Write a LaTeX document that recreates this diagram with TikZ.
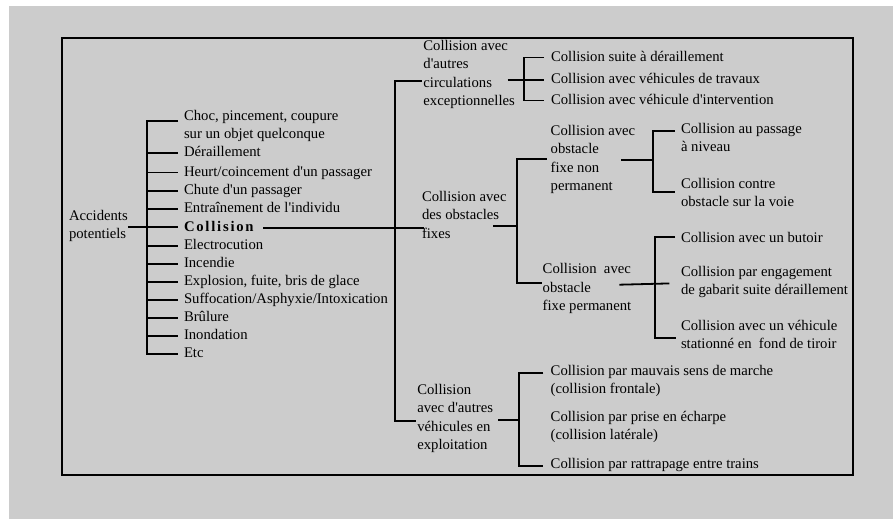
\documentclass[tikz,border=0pt]{standalone}
\usepackage{fontspec}
\setmainfont{Liberation Serif}[Ligatures=TeXOff]
\newfontfamily\spacedserif{Liberation Serif}[Ligatures=TeXOff,LetterSpace=12]
\usetikzlibrary{calc}
\definecolor{panel}{HTML}{CCCCCC}
\newcommand{\txtfont}{\fontsize{14.7}{18.2}\selectfont}
\begin{document}
\begin{tikzpicture}[x=1pt,y=-1pt,
  lbl/.style={anchor=north west,inner sep=0pt,outer sep=0pt,align=left,font=\txtfont,
    execute at begin node=\strut,execute at end node=\strut},
  leaf/.style={lbl,anchor=west},
  tree/.style={line width=1.8pt,line join=miter}]
\useasboundingbox (0,0) rectangle (893,519);
\fill[white] (0,0) rectangle (893,519);
\fill[panel] (9,6) rectangle (893,519);
\draw[line width=2pt] (62,37.7) rectangle (852.7,475.3);

% root and first-level categories
\node[lbl] (root) at (69,210.4) {Accidents\\potentiels};
\node[lbl]  (choc)  at (184,109.9) {Choc, pincement, coupure\\sur un objet quelconque};
\node[leaf] (der)   at (184,153)   {Déraillement};
\node[leaf] (heurt) at (184,172.5) {Heurt/coincement d'un passager};
\node[leaf] (chute) at (184,191)   {Chute d'un passager};
\node[leaf] (entr)  at (184,209.3) {Entraînement de l'individu};
\node[leaf,font=\txtfont\spacedserif\bfseries] (coll) at (184,228) {Collision};
\node[leaf] (elec)  at (184,246)   {Electrocution};
\node[leaf] (inc)   at (184,264)   {Incendie};
\node[leaf] (expl)  at (184,282)   {Explosion, fuite, bris de glace};
\node[leaf] (suff)  at (184,300)   {Suffocation/Asphyxie/Intoxication};
\node[leaf] (brul)  at (184,318)   {Brûlure};
\node[leaf] (inond) at (184,336)   {Inondation};
\node[leaf] (etc)   at (184,354)   {Etc};

% collision types
\node[lbl] (A) at (423.4,40.4) {Collision avec\\d'autres\\circulations\\exceptionnelles};
\node[lbl] (B) at (422,191.4) {Collision avec\\des obstacles\\fixes};
\node[lbl] (C) at (417.3,384.4) {Collision\\avec d'autres\\véhicules en\\exploitation};

\node[leaf] (A1) at (551,57.5)  {Collision suite à déraillement};
\node[leaf] (A2) at (551,80)    {Collision avec véhicules de travaux};
\node[leaf] (A3) at (551,100.5) {Collision avec véhicule d'intervention};

\node[lbl] (B1) at (550.7,125.4) {Collision avec\\obstacle\\fixe non\\permanent};
\node[lbl] (B2) at (542.7,263.6) {Collision\ \ avec\\obstacle\\fixe permanent};

\node[lbl]  (B1a) at (681,123.4) {Collision au passage\\à niveau};
\node[lbl]  (B1b) at (681,178.4) {Collision contre\\obstacle sur la voie};
\node[leaf] (B2a) at (681,239.3) {Collision avec un butoir};
\node[lbl]  (B2b) at (681,266.5) {Collision par engagement\\de gabarit suite déraillement};
\node[lbl]  (B2c) at (681,320.2) {Collision avec un véhicule\\stationné en\ \ fond de tiroir};

\node[lbl]  (Ca) at (550.7,364.9) {Collision par mauvais sens de marche\\(collision frontale)};
\node[lbl]  (Cb) at (550.7,410.9) {Collision par prise en écharpe\\(collision latérale)};
\node[leaf] (Cc) at (550.7,465)   {Collision par rattrapage entre trains};

% first-level bracket
\coordinate (b1) at (147,228);
\draw[tree] ($(choc.north west)+(-6,11.1)$) -| (b1 |- etc.west) -- ($(etc.west)+(-6,0)$);
\foreach \n in {der,heurt,chute,entr,elec,inc,expl,suff,brul,inond}
  \draw[tree] (b1 |- \n.west) -- ($(\n.west)+(-6,0)$);
\draw[tree] (root.east) -- ([xshift=-6pt]root.east -| coll.west);

% collision bracket
\coordinate (b2)  at (395,228);
\coordinate (Ain) at ($(A.north west)+(-1.8,40.6)$);
\coordinate (Bin) at ($(B.north west)+(2,36.6)$);
\coordinate (Cin) at ($(C.north west)+(-1.3,36.6)$);
\draw[tree] ([xshift=9.5pt]coll.east) -- (Bin);
\draw[tree] (Ain) -| (b2 |- Cin) -- (Cin);

% other traffic
\coordinate (Aout) at ($(A.north west)+(84.1,39.6)$);
\coordinate (bA) at (524,80);
\draw[tree] (Aout) -- ($(A2.west)+(-7,0)$);
\draw[tree] ($(A1.west)+(-7,0)$) -| (bA |- A3.west) -- ($(A3.west)+(-7,0)$);

% fixed obstacles
\coordinate (Bout) at ($(B.north west)+(71.3,34.6)$);
\coordinate (bB) at (517.3,226);
\coordinate (B1in) at ($(B1.north west)+(-4,33.6)$);
\coordinate (B2in) at ($(B2.north west)+(-1,19.7)$);
\draw[tree] (Bout) -- (bB);
\draw[tree] (B1in) -| (bB |- B2in) -- (B2in);

\coordinate (B1out) at ($(B1.north west)+(70.3,34.6)$);
\coordinate (bB1) at (652.7,160);
\coordinate (B1ain) at ($(B1a.north west)+(-6.5,7.6)$);
\coordinate (B1bin) at ($(B1b.north west)+(-6.5,13.3)$);
\draw[tree] (B1out) -- (bB1);
\draw[tree] (B1ain) -| (bB1 |- B1bin) -- (B1bin);

\coordinate (B2out) at ($(B2.north west)+(76.6,21.1)$);
\coordinate (bB2) at (655,284.7);
\coordinate (B2ain) at ($(B2a.west)+(-6,-2)$);
\coordinate (B2cin) at ($(B2c.north west)+(-5,18.1)$);
\draw[tree] (B2out) -- ($(B2b.west)+(-11.7,0)$);
\draw[tree] (B2ain) -| (bB2 |- B2cin) -- (B2cin);

% vehicles in service
\coordinate (Cout) at ($(C.north west)+(81,35.6)$);
\coordinate (bC) at (519.3,420);
\coordinate (Cain) at ($(Ca.north west)+(-7.4,7.8)$);
\coordinate (Ccin) at ($(Cc.west)+(-7.4,0.7)$);
\draw[tree] (Cout) -- (bC);
\draw[tree] (Cain) -| (bC |- Ccin) -- (Ccin);
\end{tikzpicture}
\end{document}
